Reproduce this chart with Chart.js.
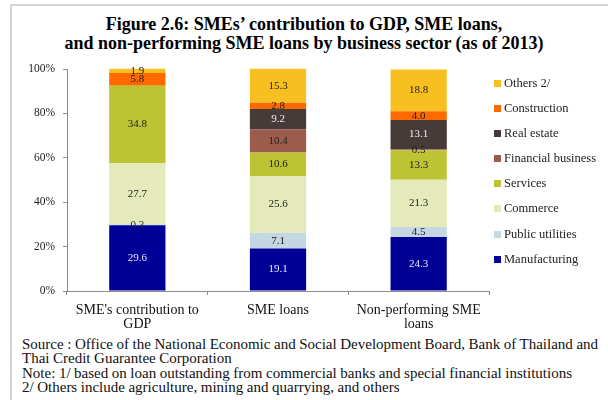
<!DOCTYPE html>
<html>
<head>
<meta charset="utf-8">
<script src="https://cdn.jsdelivr.net/npm/chart.js@4/dist/chart.umd.min.js"></script>
<style>
  html, body { margin: 0; padding: 0; background: #fff; }
  body { width: 608px; height: 400px; position: relative; overflow: hidden;
         font-family: "Liberation Serif", "Times New Roman", serif; color: #111; }
  .frame { position: absolute; left: 10px; top: 4px; right: -4px; bottom: -4px;
           border-left: 2px solid #d4d4d4; border-top: 2px solid #d4d4d4; }
  h1 { position: absolute; left: 0; width: 608px; top: 15px; margin: 0; text-align: center;
       font-size: 18px; line-height: 19px; font-weight: bold; color: #000; }
  .chart-wrap { position: absolute; left: 0; top: 0; width: 608px; height: 335px; }
  #legend { position: absolute; left: 494px; top: 77px; margin: 0; padding: 0; list-style: none; }
  #legend li { height: 25.1px; font-size: 12.5px; line-height: 12px; white-space: nowrap; color: #222; }
  #legend span { display: inline-block; width: 7px; height: 7px; margin-right: 3px; vertical-align: 0px; }
  .note { position: absolute; left: 22px; font-size: 15px; line-height: 14px; white-space: nowrap;
          word-spacing: -0.2px; color: #111; }
</style>
</head>
<body>
<div class="frame"></div>
<h1>Figure 2.6: SMEs’ contribution to GDP, SME loans,<br>and non-performing SME loans by business sector (as of 2013)</h1>
<div class="chart-wrap"><canvas id="sectorChart"></canvas></div>
<ul id="legend"></ul>
<div class="note" style="top:337px">Source : Office of the National Economic and Social Development Board, Bank of Thailand and</div>
<div class="note" style="top:351px">Thai Credit Guarantee Corporation</div>
<div class="note" style="top:366px">Note: 1/ based on loan outstanding from commercial banks and special financial institutions</div>
<div class="note" style="top:380px">2/ Others include agriculture, mining and quarrying, and others</div>
<script>
// categories and sectors (bottom to top of each stack)
const categories = [
  ["SME's contribution to", "GDP"],
  ["SME loans"],
  ["Non-performing SME", "loans"]
];
const sectors = ["Manufacturing", "Public utilities", "Commerce", "Services",
  "Financial business", "Real estate", "Construction", "Others 2/"];

// share of each sector, % (GDP, SME loans, NPL)
const manufacturing = [29.6, 19.1, 24.3];
const publicUtilities = [0.3, 7.1, 4.5];
const commerce = [27.7, 25.6, 21.3];
const services = [34.8, 10.6, 13.3];
const financialBusiness = [0, 10.4, 0.5];
const realEstate = [0, 9.2, 13.1];
const construction = [5.8, 2.8, 4.0];
const others = [1.9, 15.3, 18.8];

const yTicks = [0, 20, 40, 60, 80, 100];

const sectorValues = [manufacturing, publicUtilities, commerce, services,
  financialBusiness, realEstate, construction, others];
const sectorColors = ["#000096", "#c6d7e4", "#e4eab9", "#bcc434",
  "#9b5c4b", "#473b39", "#ff6a00", "#f7bf20"];
const labelColors = ["#e8e8ff", "#222", "#222", "#222", "#222", "#eee", "#222", "#222"];

const serif = "'Liberation Serif', 'Times New Roman', serif";

// value labels in the middle of each segment
const segmentLabels = {
  id: "segmentLabels",
  afterDatasetsDraw(chart) {
    const ctx = chart.ctx;
    ctx.save();
    ctx.font = "11px " + serif;
    ctx.textAlign = "center";
    ctx.textBaseline = "middle";
    chart.data.datasets.forEach((ds, i) => {
      chart.getDatasetMeta(i).data.forEach((bar, j) => {
        const v = ds.data[j];
        if (!v) return;
        ctx.fillStyle = labelColors[i];
        ctx.fillText(v.toFixed(1), bar.x, (bar.y + bar.base) / 2);
      });
    });
    ctx.restore();
  }
};

const chart = new Chart(document.getElementById("sectorChart"), {
  type: "bar",
  data: {
    labels: categories,
    datasets: sectors.map((name, i) => ({
      label: name,
      data: sectorValues[i],
      backgroundColor: sectorColors[i],
      borderWidth: 0,
      categoryPercentage: 1,
      barPercentage: 0.4,
      clip: false
    }))
  },
  options: {
    responsive: true,
    maintainAspectRatio: false,
    animation: false,
    layout: { padding: { left: 0, right: 119, top: 69, bottom: 0 } },
    plugins: {
      legend: { display: false },
      tooltip: { enabled: false },
      title: { display: false }
    },
    scales: {
      x: {
        stacked: true,
        border: { color: "#8c8c8c" },
        grid: { drawOnChartArea: false, tickLength: 4, color: "#8c8c8c" },
        ticks: { color: "#111", font: { family: serif, size: 14, lineHeight: 1.0 }, padding: 8, maxRotation: 0 },
        afterFit(scale) { scale.height = 44; }
      },
      y: {
        stacked: true,
        min: 0,
        max: 100,
        afterBuildTicks(scale) { scale.ticks = yTicks.map(v => ({ value: v })); },
        border: { color: "#8c8c8c" },
        grid: { drawOnChartArea: false, tickLength: 4, color: "#8c8c8c" },
        ticks: { color: "#222", font: { family: serif, size: 11.5 }, padding: 8,
                 callback: v => v + "%" },
        afterFit(scale) { scale.width = 67; }
      }
    }
  },
  plugins: [segmentLabels]
});

// legend list, top item is the last sector
const legend = document.getElementById("legend");
chart.data.datasets.slice().reverse().forEach(ds => {
  const li = document.createElement("li");
  const sw = document.createElement("span");
  sw.style.background = ds.backgroundColor;
  li.appendChild(sw);
  li.appendChild(document.createTextNode(ds.label));
  legend.appendChild(li);
});
</script>
</body>
</html>
